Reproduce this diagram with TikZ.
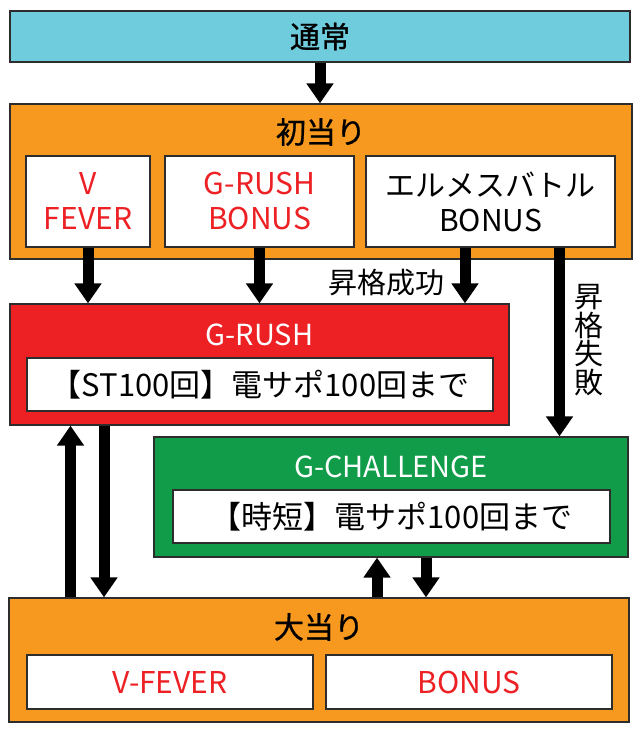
\documentclass[tikz,border=0pt]{standalone}
\usepackage{fontspec}
\setmainfont{Noto Sans CJK JP}
\newfontfamily\headfont{Noto Sans CJK JP}[FakeBold=0.9]
\usepackage{tikz}
\usetikzlibrary{arrows.meta, positioning}
\definecolor{normalblue}{RGB}{110,204,221}
\definecolor{hitorange}{RGB}{247,153,30}
\definecolor{rushred}{RGB}{237,32,36}
\definecolor{chalgreen}{RGB}{16,156,72}
\definecolor{edgegray}{RGB}{45,45,45}
\tikzstyle{stage} = [rectangle, draw=edgegray, line width=1.3pt, inner sep=0pt]
\tikzstyle{subbox} = [rectangle, draw=edgegray, line width=1.3pt, fill=white, inner sep=0pt, align=center, font=\fontsize{30}{35}\selectfont]
\tikzstyle{heading} = [font=\fontsize{29}{35}\selectfont]
\tikzstyle{bighead} = [font=\fontsize{30}{35}\selectfont\headfont]
\tikzstyle{arrow} = [line width=11pt, -{Triangle[width=26pt,length=20pt]}]

\begin{document}
\begin{tikzpicture}[x=1pt, y=-1pt]
            \useasboundingbox (0,0) rectangle (640,734);

            \node (normal) [stage, bighead, fill=normalblue, minimum width=620pt, minimum height=51pt] at (320,36.5) {通常};

            \node (first) [stage, fill=hitorange, minimum width=622pt, minimum height=155pt] at (321,181.5) {};
            \node (first_title) [bighead] at (321,132) {初当り};
            \node (vfever) [subbox, text=rushred, minimum width=124pt, minimum height=91pt] at (88,201.5) {V\\FEVER};
            \node (grbonus) [subbox, text=rushred, minimum width=189pt, minimum height=91pt] at (259.5,201.5) {G-RUSH\\BONUS};
            \node (hermes) [subbox, minimum width=249pt, minimum height=91pt] at (490.5,201.5) {エルメスバトル\\BONUS};

            \node (grush) [stage, fill=rushred, minimum width=499pt, minimum height=121pt] at (259.5,364.5) {};
            \node (grush_title) [heading, text=white] at (259.5,335) {G-RUSH};
            \node (grush_spec) [subbox, minimum width=466pt, minimum height=53pt, font=\fontsize{31}{35}\selectfont] at (260,384.5) {【ST100回】電サポ100回まで};

            \node (gchal) [stage, fill=chalgreen, minimum width=474pt, minimum height=120pt] at (391,497) {};
            \node (gchal_title) [heading, text=white] at (391,467) {G-CHALLENGE};
            \node (gchal_spec) [subbox, minimum width=437pt, minimum height=53pt, font=\fontsize{31}{35}\selectfont] at (391.5,516.5) {【時短】電サポ100回まで};

            \node (big) [stage, fill=hitorange, minimum width=620pt, minimum height=124pt] at (319,660) {};
            \node (big_title) [bighead] at (319,627) {大当り};
            \node (vfever2) [subbox, text=rushred, minimum width=286pt, minimum height=54pt] at (170,682) {V-FEVER};
            \node (bonus2) [subbox, text=rushred, minimum width=286pt, minimum height=54pt] at (469,682) {BONUS};

            \node (up_ok) [heading] at (386,283) {昇格成功};
            \node (up_ng) [heading, align=center, font=\fontsize{29}{28.5}\selectfont] at (589,340) {昇\\格\\失\\敗};

            \coordinate (ok_start) at ([xshift=-25.5pt]hermes.south);
            \coordinate (ng_start) at ([xshift=69pt]hermes.south);
            \coordinate (rush_up) at ([xshift=-248.5pt]big.north);
            \coordinate (rush_down) at ([xshift=-155.5pt]grush.south);
            \coordinate (chal_up) at ([xshift=58pt]big.north);
            \coordinate (chal_down) at ([xshift=35pt]gchal.south);

            \draw [arrow] (normal.south) -- (normal.south |- first.north);
            \draw [arrow] (vfever.south) -- (vfever.south |- grush.north);
            \draw [arrow] (grbonus.south) -- (grbonus.south |- grush.north);
            \draw [arrow] (ok_start) -- (ok_start |- grush.north);
            \draw [arrow] (ng_start) -- (ng_start |- gchal.north);
            \draw [arrow] (rush_up) -- (rush_up |- grush.south);
            \draw [arrow] (rush_down) -- (rush_down |- big.north);
            \draw [arrow] (chal_up) -- (chal_up |- gchal.south);
            \draw [arrow] (chal_down) -- (chal_down |- big.north);

            \end{tikzpicture}
\end{document}
